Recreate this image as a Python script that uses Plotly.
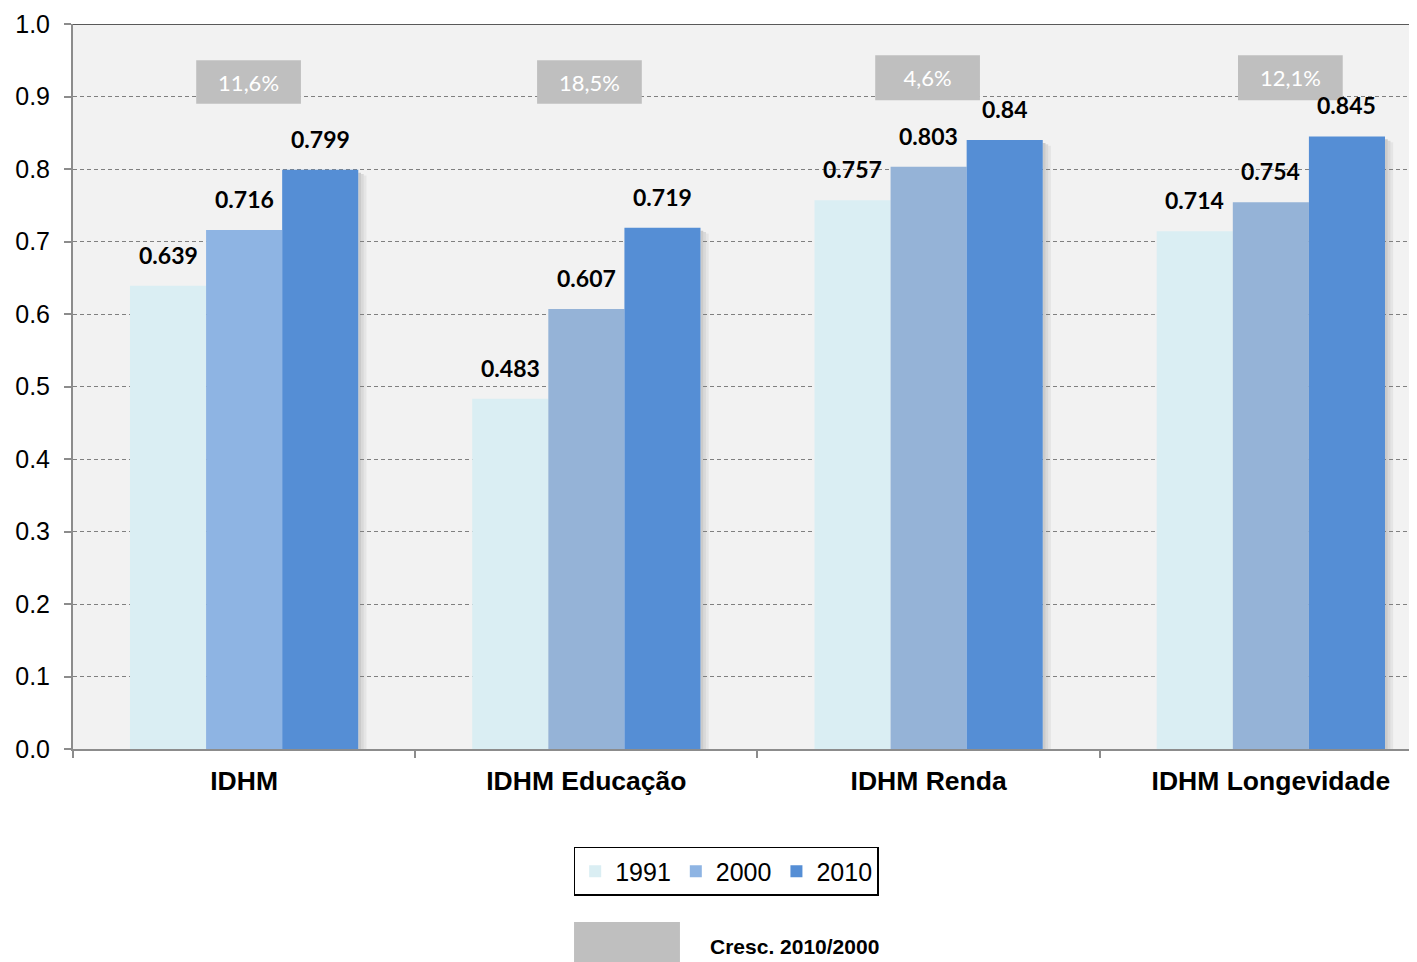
import plotly.graph_objects as go

categories = ["IDHM", "IDHM Educação", "IDHM Renda", "IDHM Longevidade"]
years = ["1991", "2000", "2010"]
v1991 = [0.639, 0.483, 0.757, 0.714]
v2000 = [0.716, 0.607, 0.803, 0.754]
v2010 = [0.799, 0.719, 0.84, 0.845]
growth = [11.6, 18.5, 4.6, 12.1]
growth_legend = "Cresc. 2010/2000"

series = [v1991, v2000, v2010]
colors = [
    ["#DAEEF3"] * 4,
    ["#8EB4E3", "#95B3D7", "#95B3D7", "#95B3D7"],
    ["#558ED5"] * 4,
]

fig = go.Figure()
for yr, vals, cols in zip(years, series, colors):
    fig.add_trace(go.Bar(
        x=categories, y=vals, name=yr,
        marker=dict(color=cols, line=dict(width=0)),
        hoverinfo="x+y",
    ))

shapes = []
annotations = []
bar_px = 76
xshifts = [-bar_px, 0, bar_px]
for s, vals in enumerate(series):
    for i, v in enumerate(vals):
        annotations.append(dict(
            x=categories[i], y=v, xref="x", yref="y",
            text=f"<b>{v:g}</b>", showarrow=False,
            xshift=xshifts[s], yshift=15, yanchor="bottom",
            font=dict(family="Lato, Open Sans, sans-serif", size=23, color="#000000"),
        ))

# soft shadow right of 2010 bars
for i, v in enumerate(v2010):
    for k, op in enumerate([0.16, 0.10, 0.05]):
        shapes.append(dict(
            type="rect", xref="x", yref="y", layer="below",
            x0=i + 0.3335 + k * 0.008, x1=i + 0.3335 + (k + 1) * 0.008,
            y0=0, y1=v - 0.004 - k * 0.002,
            fillcolor=f"rgba(0,0,0,{op})", line=dict(width=0),
        ))

# growth boxes
box_centers = [0.013, 1.009, 1.997, 3.057]
box_y = [(0.890, 0.950), (0.890, 0.950), (0.895, 0.957), (0.895, 0.957)]
for i, g in enumerate(growth):
    c = box_centers[i]
    y0, y1 = box_y[i]
    shapes.append(dict(
        type="rect", xref="x", yref="y",
        x0=c - 0.153, x1=c + 0.153, y0=y0, y1=y1,
        fillcolor="#BFBFBF", line=dict(width=0),
        label=dict(text=f"{g:.1f}%".replace(".", ","),
                   font=dict(family="Lato, Open Sans, sans-serif", size=22, color="#FFFFFF")),
    ))

# top border line
shapes.append(dict(type="line", xref="paper", yref="y", x0=0, x1=1, y0=1, y1=1,
                   line=dict(color="#262626", width=1.5)))

# second legend: growth key
shapes.append(dict(type="rect", xref="paper", yref="paper",
                   x0=0.3728, x1=0.4516, y0=-0.2938, y1=-0.2386,
                   fillcolor="#BFBFBF", line=dict(width=0)))
annotations.append(dict(x=0.5365, y=-0.273, xref="paper", yref="paper",
                        xanchor="center", yanchor="middle",
                        text=f"<b>{growth_legend}</b>", showarrow=False,
                        font=dict(family="Liberation Sans, Arial, sans-serif", size=21, color="#000000")))

fig.update_layout(
    width=1409, height=954,
    margin=dict(l=65, r=0, t=16, b=213),
    paper_bgcolor="#FFFFFF",
    plot_bgcolor="#F2F2F2",
    barmode="group", bargap=0.333, bargroupgap=0,
    font=dict(family="Liberation Sans, Arial, sans-serif", color="#000000"),
    shapes=shapes,
    annotations=annotations,
    showlegend=True,
    legend=dict(
        orientation="h", x=0.486, y=-0.135, xanchor="center", yanchor="top",
        bordercolor="#000000", borderwidth=1.5, bgcolor="#FFFFFF",
        font=dict(family="Liberation Sans, Arial, sans-serif", size=25, color="#000000"),
        itemwidth=30, tracegroupgap=0,
    ),
)
fig.update_xaxes(
    type="category", range=[-0.5, 3.427],
    showline=True, linecolor="#8C8C8C", linewidth=2,
    ticks="outside", tickson="boundaries", ticklen=7, tickcolor="#8C8C8C", tickwidth=1.5,
    tickfont=dict(family="Liberation Sans, Arial, sans-serif", size=26.5, color="#000000"),
    tickprefix="<b>", ticksuffix="</b>",
    ticklabelstandoff=7,
    showgrid=False,
)
fig.update_yaxes(
    range=[0, 1.0], dtick=0.1, tickformat=".1f",
    showline=True, linecolor="#8C8C8C", linewidth=2,
    ticks="outside", ticklen=7, tickcolor="#8C8C8C", tickwidth=1.5,
    tickfont=dict(family="Liberation Sans, Arial, sans-serif", size=25, color="#000000"),
    ticklabelstandoff=9,
    showgrid=True, gridcolor="#808080", griddash="4px,3px", gridwidth=1,
    zeroline=False,
)

fig.write_html("out.html")
